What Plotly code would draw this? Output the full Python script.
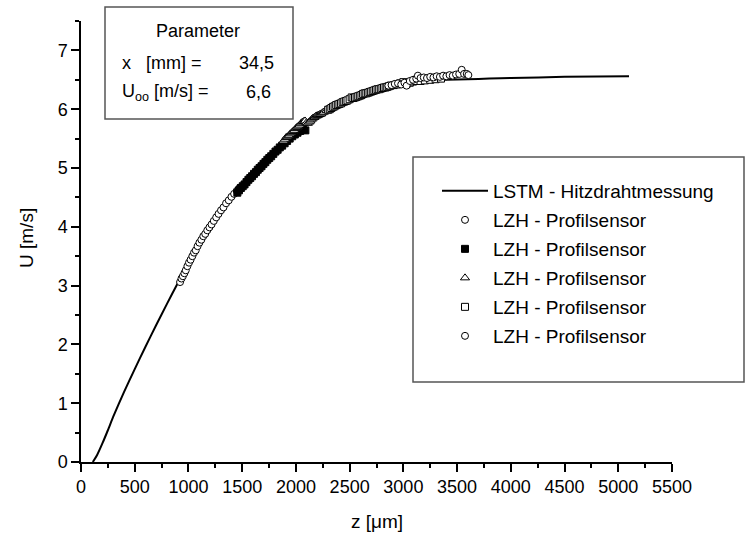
import plotly.graph_objects as go

# LSTM hot-wire reference profile: wall distance z [um], velocity U [m/s]
z_lstm = [110, 150, 200, 250, 300, 400, 500, 600, 700, 800, 900, 1000, 1100, 1200,
          1300, 1400, 1500, 1600, 1700, 1800, 1900, 2000, 2100, 2200, 2300, 2400,
          2500, 2600, 2700, 2800, 2900, 3000, 3200, 3400, 3600, 3800, 4000, 4500, 5100]
u_lstm = [0.0, 0.12, 0.32, 0.54, 0.77, 1.19, 1.58, 1.96, 2.33, 2.69, 3.04, 3.38, 3.7, 3.99,
          4.26, 4.5, 4.7, 4.89, 5.07, 5.25, 5.43, 5.59, 5.73, 5.86, 5.97, 6.07,
          6.15, 6.22, 6.29, 6.35, 6.4, 6.44, 6.48, 6.5, 6.51, 6.52, 6.53, 6.55, 6.56]

# LZH profile sensor, run 1 (open circles)
z_run1 = [922, 935, 948, 962, 975, 990, 1005, 1020, 1036, 1052, 1068, 1085, 1102, 1120, 1138,
          1156, 1175, 1195, 1215, 1236, 1258, 1280, 1303, 1326, 1350, 1375, 1400, 1425, 1450, 1475]
u_run1 = [3.06, 3.12, 3.16, 3.21, 3.26, 3.33, 3.39, 3.44, 3.5, 3.56, 3.6, 3.67, 3.73, 3.78, 3.84,
          3.88, 3.94, 3.99, 4.04, 4.1, 4.16, 4.22, 4.28, 4.33, 4.4, 4.45, 4.51, 4.56, 4.61, 4.66]

# run 2 (filled squares)
z_run2 = [1455, 1470, 1488, 1505, 1522, 1540, 1558, 1575, 1592, 1610, 1628, 1645, 1662, 1680, 1698,
          1716, 1734, 1752, 1770, 1790, 1810, 1830, 1850, 1872, 1895, 1918, 1942, 1966, 1990, 2015,
          2040, 2065, 2088]
u_run2 = [4.58, 4.62, 4.66, 4.69, 4.72, 4.76, 4.8, 4.83, 4.86, 4.9, 4.93, 4.97, 5.0, 5.03, 5.07,
          5.1, 5.14, 5.17, 5.2, 5.24, 5.28, 5.31, 5.35, 5.38, 5.42, 5.46, 5.5, 5.54, 5.57, 5.6,
          5.63, 5.65, 5.64]

# run 3 (open triangles)
z_run3 = [1885, 1898, 1910, 1922, 1935, 1948, 1960, 1972, 1985, 1998, 2010, 2022, 2035, 2048,
          2060, 2072, 2085, 2098, 2110, 2122, 2135, 2148, 2160, 2172, 2185, 2198, 2210, 2222,
          2235, 2248, 2260, 2285, 2310, 2335, 2360, 2385, 2410, 2435, 2460, 2485, 2510, 2535,
          2560, 2585, 2610, 2635, 2660]
u_run3 = [5.46, 5.49, 5.52, 5.53, 5.55, 5.58, 5.6, 5.62, 5.64, 5.67, 5.69, 5.71, 5.73, 5.76,
          5.78, 5.79, 5.8, 5.77, 5.76, 5.78, 5.8, 5.83, 5.85, 5.86, 5.88, 5.89, 5.9, 5.91,
          5.92, 5.94, 5.95, 5.98, 6.0, 6.03, 6.05, 6.08, 6.1, 6.12, 6.14, 6.16, 6.18, 6.2,
          6.21, 6.23, 6.25, 6.27, 6.29]

# run 4 (open squares)
z_run4 = [2300, 2315, 2330, 2345, 2360, 2375, 2390, 2405, 2420, 2435, 2450, 2465, 2480, 2500,
          2519, 2535, 2550, 2565, 2580, 2595, 2610, 2625, 2640, 2655, 2670, 2685, 2700, 2715,
          2730, 2745, 2760, 2775, 2790, 2805, 2820, 2835, 2850, 2865, 2880, 2910, 2940, 2970,
          3000, 3030, 3060, 3090, 3120, 3160, 3200, 3250, 3300, 3350]
u_run4 = [5.99, 6.0, 6.02, 6.04, 6.05, 6.07, 6.08, 6.09, 6.1, 6.12, 6.13, 6.14, 6.15, 6.17,
          6.2, 6.19, 6.2, 6.21, 6.22, 6.23, 6.24, 6.26, 6.27, 6.27, 6.28, 6.29, 6.3, 6.31,
          6.32, 6.33, 6.34, 6.34, 6.35, 6.36, 6.37, 6.37, 6.38, 6.39, 6.4, 6.41, 6.42, 6.44,
          6.46, 6.43, 6.45, 6.47, 6.48, 6.48, 6.49, 6.5, 6.51, 6.52]

# run 5 (open circles)
z_run5 = [2860, 2890, 2920, 2950, 2980, 3010, 3030, 3060, 3090, 3120, 3135, 3160, 3190, 3220, 3250,
          3280, 3310, 3340, 3370, 3400, 3430, 3460, 3490, 3520, 3543, 3565, 3590, 3605]
u_run5 = [6.4, 6.41, 6.43, 6.44, 6.42, 6.45, 6.4, 6.48, 6.5, 6.52, 6.57, 6.53, 6.54, 6.53, 6.55,
          6.54, 6.56, 6.55, 6.57, 6.56, 6.58, 6.57, 6.59, 6.6, 6.67, 6.6, 6.6, 6.58]

line_name = "LSTM - Hitzdrahtmessung"
run_name = "LZH - Profilsensor"

x_ticks = list(range(0, 5501, 500))
y_ticks = list(range(0, 8))

# page geometry (pixels)
W, H = 746, 534
ML, MR, MT, MB = 81, 74, 21, 72
PW, PH = W - ML - MR, H - MT - MB


def px(x):
    return (x - ML) / PW


def py(y):
    return (H - MB - y) / PH


FONT = "Liberation Sans, Arial, Helvetica, sans-serif"

fig = go.Figure()

fig.add_trace(go.Scatter(x=z_lstm, y=u_lstm, mode="lines", name=line_name,
                         legendgroup="g0",
                         line=dict(color="black", width=2, shape="spline", smoothing=0.6)))

runs = [
    (z_run1, u_run1, "circle", "white", 7),
    (z_run2, u_run2, "square", "black", 7),
    (z_run3, u_run3, "triangle-up", "white", 8),
    (z_run4, u_run4, "square", "white", 7),
    (z_run5, u_run5, "circle", "white", 7),
]
for i, (zz, uu, sym, fill, size) in enumerate(runs, start=1):
    fig.add_trace(go.Scatter(x=zz, y=uu, mode="markers", name=run_name,
                             legendgroup=f"g{i}",
                             marker=dict(symbol=sym, size=size, color=fill,
                                         line=dict(color="black", width=1))))

axis_common = dict(
    showline=True, linecolor="black", linewidth=1.5,
    ticks="outside", ticklen=8, tickwidth=1.5, tickcolor="black",
    showgrid=False, zeroline=False, mirror=False, automargin=False,
    tickfont=dict(family=FONT, size=18, color="black"),
)

fig.update_xaxes(range=[0, 5500], tickvals=x_ticks, ticktext=[str(v) for v in x_ticks],
                 minor=dict(dtick=250, ticklen=4, tickwidth=1.5, tickcolor="black", ticks="outside"),
                 **axis_common)
fig.update_yaxes(range=[0, 7.5], tickvals=y_ticks, ticktext=[str(v) for v in y_ticks],
                 minor=dict(dtick=0.5, ticklen=4, tickwidth=1.5, tickcolor="black", ticks="outside"),
                 **axis_common)

box_color = "#555555"
shapes = [
    # parameter box
    dict(type="rect", xref="paper", yref="paper", x0=px(105), x1=px(293), y0=py(119), y1=py(7),
         line=dict(color=box_color, width=1.5), fillcolor="white", layer="above"),
    # legend frame
    dict(type="rect", xref="paper", yref="paper", x0=px(413), x1=px(744), y0=py(382), y1=py(157),
         line=dict(color=box_color, width=1.5), fillcolor="white", layer="below"),
]

pfont = dict(family=FONT, size=18, color="black")
tfont = dict(family=FONT, size=19, color="black")
annotations = [
    dict(text="Parameter", x=px(198), y=py(31), xanchor="center", yanchor="middle", font=pfont),
    dict(text="x   [mm] =", x=px(120), y=py(63), xanchor="left", yanchor="middle", font=pfont),
    dict(text="34,5", x=px(276), y=py(63), xanchor="right", yanchor="middle", font=pfont),
    dict(text="U<sub>oo</sub> [m/s] =", x=px(120), y=py(92), xanchor="left", yanchor="middle",
         font=pfont),
    dict(text="6,6", x=px(273), y=py(92), xanchor="right", yanchor="middle", font=pfont),
    # axis titles
    dict(text="z [μm]", x=0.5, y=py(521), xanchor="center", yanchor="middle", font=tfont),
    dict(text="U [m/s]", x=px(26), y=py(238), xanchor="center", yanchor="middle", textangle=-90,
         font=tfont),
]
for a in annotations:
    a.update(xref="paper", yref="paper", showarrow=False)

fig.update_layout(
    width=W, height=H,
    margin=dict(l=ML, r=MR, t=MT, b=MB, autoexpand=False),
    paper_bgcolor="white", plot_bgcolor="white",
    font=dict(family=FONT, color="black"),
    shapes=shapes,
    annotations=annotations,
    showlegend=True,
    legend=dict(x=px(437), y=py(172), xanchor="left", yanchor="top",
                bgcolor="rgba(0,0,0,0)", borderwidth=0,
                font=dict(family=FONT, size=19, color="black"),
                itemwidth=46, tracegroupgap=1.3, traceorder="grouped"),
)

fig.write_html("out.html")
